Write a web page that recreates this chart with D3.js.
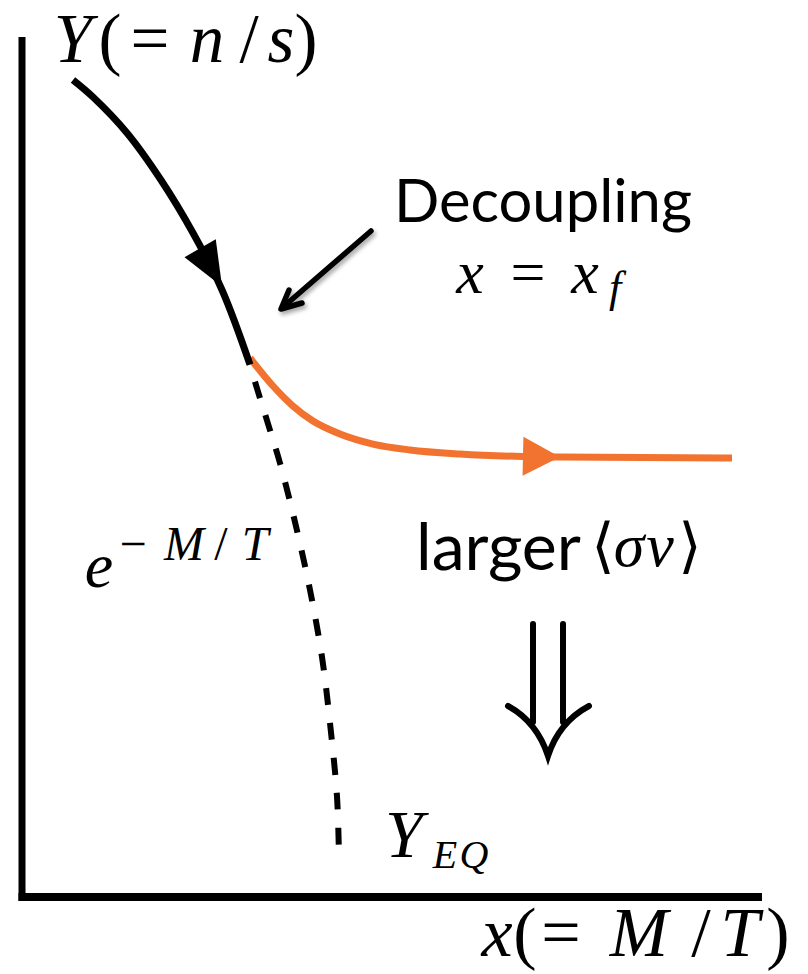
<!DOCTYPE html>
<html>
<head>
<meta charset="utf-8">
<script src="https://cdn.jsdelivr.net/npm/d3@7"></script>
<style>
  html, body { margin: 0; padding: 0; background: #fff; }
  svg { display: block; }
</style>
</head>
<body>
<svg id="chart" width="808" height="974"></svg>
<script>
// ---- data (schematic values, in axis units 0..100) ----
const frozenX   = [6.89, 9.59, 14.19, 18.78, 23.11, 27.03, 30.81];
const frozenY   = [95.0, 93.02, 88.84, 83.37, 77.21, 70.58, 61.9];
const relicX    = [30.81, 33.92, 36.62, 39.32, 42.97, 47.43, 52.43, 59.19, 67.7, 72.7, 95.95];
const relicY    = [62.67, 59.42, 57.09, 55.35, 53.84, 52.67, 51.98, 51.51, 51.22, 51.16, 51.05];
const eqX       = [30.81, 32.16, 33.51, 34.86, 36.89, 38.92, 40.54, 41.62, 42.57, 42.84];
const eqY       = [61.8, 58.02, 54.3, 50.47, 43.6, 35.7, 27.9, 20.23, 11.63, 4.4];

const svg = d3.select("#chart");
const x = d3.scaleLinear().domain([0, 100]).range([22, 762]);
const y = d3.scaleLinear().domain([0, 100]).range([897, 37]);

const zip = (a, b) => a.map((v, i) => [v, b[i]]);
const lineCR = d3.line().x(d => x(d[0])).y(d => y(d[1])).curve(d3.curveCatmullRom.alpha(0.5));
const lineMX = d3.line().x(d => x(d[0])).y(d => y(d[1])).curve(d3.curveMonotoneX);

const ORANGE = "#F1732F";

// axes
svg.append("line").attr("x1", x(0)).attr("x2", x(0)).attr("y1", y(100)).attr("y2", y(0) + 4)
  .attr("stroke", "#000").attr("stroke-width", 7);
svg.append("line").attr("x1", x(0) - 3.5).attr("x2", x(100)).attr("y1", y(0)).attr("y2", y(0))
  .attr("stroke", "#000").attr("stroke-width", 8);

// equilibrium dashed
svg.append("path").attr("d", lineCR(zip(eqX, eqY))).attr("fill", "none")
  .attr("stroke", "#000").attr("stroke-width", 6)
  .attr("stroke-dasharray", "17,18").attr("stroke-dashoffset", "-17");

// relic (orange)
svg.append("path").attr("d", lineMX(zip(relicX, relicY))).attr("fill", "none")
  .attr("stroke", ORANGE).attr("stroke-width", 7);

// frozen-in equilibrium (black)
svg.append("path").attr("d", lineCR(zip(frozenX, frozenY))).attr("fill", "none")
  .attr("stroke", "#000").attr("stroke-width", 7);

function arrowHead(tip, from, L, W, color) {
  const dx = tip[0] - from[0], dy = tip[1] - from[1];
  const n = Math.hypot(dx, dy), ux = dx / n, uy = dy / n;
  const bx = tip[0] - ux * L, by = tip[1] - uy * L;
  const px = -uy * W / 2, py = ux * W / 2;
  svg.append("path")
    .attr("d", `M${tip[0]},${tip[1]}L${bx + px},${by + py}L${bx - px},${by - py}Z`)
    .attr("fill", color);
}
arrowHead([x(27.03), y(71.0)], [x(24.1), y(75.4)], 44, 36, "#000");
arrowHead([x(72.7), y(51.16)], [x(67.7), y(51.25)], 37, 39, ORANGE);

// Decoupling pointer arrow with soft shadow
const defs = svg.append("defs");
const f = defs.append("filter").attr("id", "sh").attr("x", "-30%").attr("y", "-30%").attr("width", "160%").attr("height", "160%");
f.append("feDropShadow").attr("dx", 2).attr("dy", 3).attr("stdDeviation", 2)
  .attr("flood-color", "#000").attr("flood-opacity", 0.35);
const pg = svg.append("g").attr("filter", "url(#sh)")
  .attr("fill", "none").attr("stroke", "#000").attr("stroke-width", 5.5)
  .attr("stroke-linecap", "round").attr("stroke-linejoin", "round");
pg.append("path").attr("d", "M371,231L282,308");
pg.append("path").attr("d", "M289,290L281,309L302,303");

// double arrow
const da = svg.append("g").attr("fill", "none").attr("stroke", "#000").attr("stroke-width", 6)
  .attr("stroke-linecap", "round");
da.append("path").attr("d", "M533,624L533,722");
da.append("path").attr("d", "M563,624L563,722");
da.append("path").attr("d", "M508,706Q537,722 548,756Q559,722 589,706");

// ---- text ----
const SERIF = "'Liberation Serif', 'DejaVu Serif', serif";
// pieces: [text, inkCenterX, baselineY, size, italic]
function math(pieces) {
  const t = svg.append("text").attr("font-family", SERIF).attr("fill", "#000")
    .attr("text-anchor", "middle");
  pieces.forEach(p => {
    t.append("tspan").attr("x", p[1]).attr("y", p[2])
      .attr("font-size", p[3]).attr("font-style", p[4] ? "italic" : "normal")
      .text(p[0]);
  });
  return t;
}
// Y(= n/s)
math([["Y", 73, 62, 69, true], ["(", 110, 62, 69], ["=", 150, 62, 69], ["n", 207, 62, 69, true],
      ["/", 249, 62, 69], ["s", 281, 62, 69, true], [")", 306, 62, 69]]);
// x = x_f
math([["x", 470, 293, 62, true], ["=", 528, 293, 62], ["x", 585, 293, 62, true], ["f", 615, 302, 44, true]]);
// e^{-M/T}
math([["e", 99, 587, 64, true], ["\u2212", 133, 560, 48], ["M", 184, 560, 48, true],
      ["/", 221, 560, 48], ["T", 255, 560, 48, true]]);
// <σv>
math([["\u27E8", 603, 566, 60], ["\u03C3", 629, 566, 62, true], ["v", 660, 566, 62, true], ["\u27E9", 690, 566, 60]]);
// Y_EQ
math([["Y", 404, 857, 68, true], ["E", 445, 868, 40, true], ["Q", 474, 868, 40, true]]);
// x(= M/T)
math([["x", 497, 956, 70, true], ["(", 525, 956, 70], ["=", 561, 956, 70], ["M", 639, 956, 70, true],
      ["/", 701, 956, 70], ["T", 740, 956, 70, true], [")", 778, 956, 70]]);

// sans labels
const SANS = "Lato, 'Open Sans', sans-serif";
function fitSans(txt, x0, yb, width, guess) {
  const t = svg.append("text").attr("x", x0).attr("y", yb).attr("font-family", SANS)
    .attr("font-size", guess).attr("fill", "#000").text(txt);
  const w = t.node().getComputedTextLength();
  if (w > 0) t.attr("font-size", guess * width / w);
  return t;
}
fitSans("Decoupling", 394, 222, 298, 56);
fitSans("larger", 416, 570, 165, 58);
</script>
</body>
</html>
